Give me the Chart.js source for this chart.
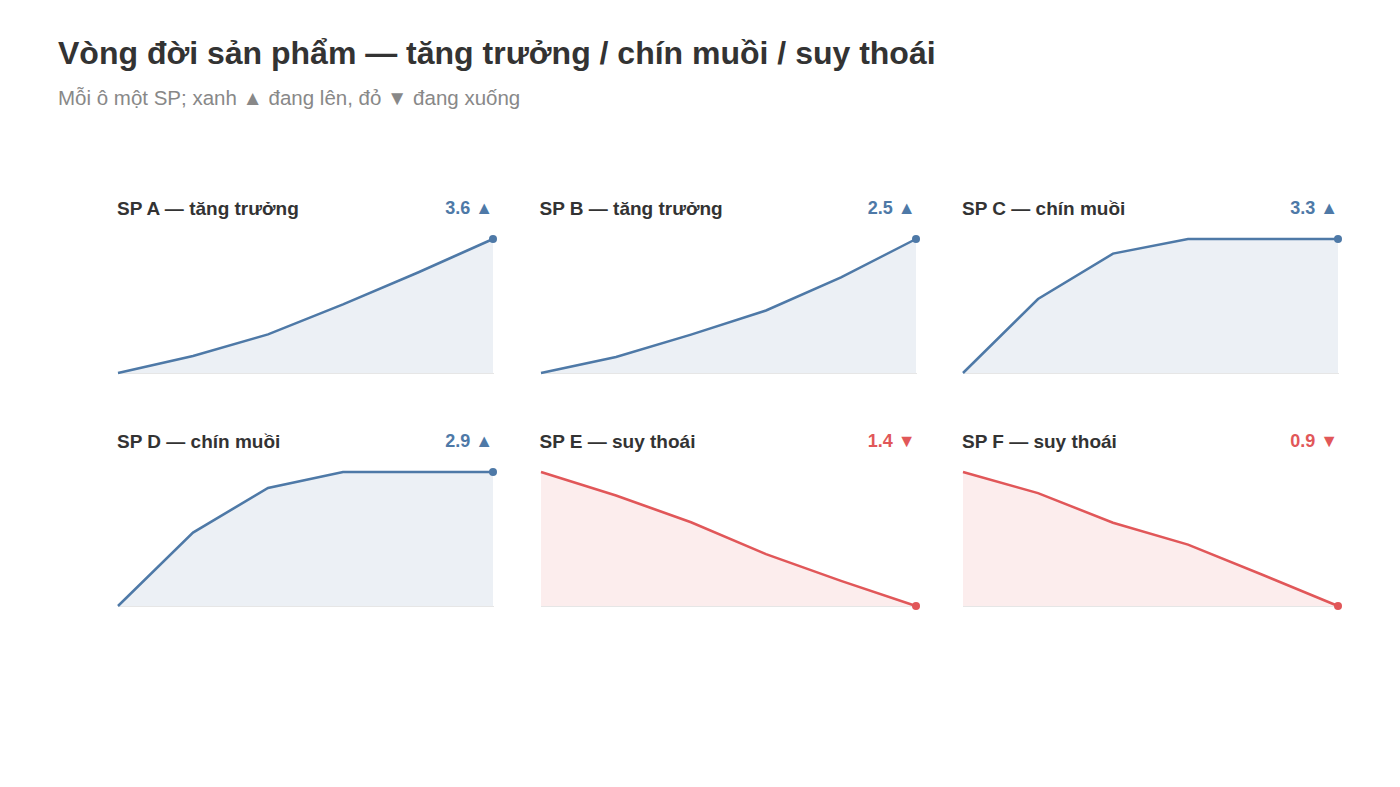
<!DOCTYPE html>
<html lang="vi">
<head>
<meta charset="utf-8">
<title>Vòng đời sản phẩm</title>
<script src="https://cdn.jsdelivr.net/npm/chart.js@4"></script>
<style>
  html, body { margin: 0; padding: 0; background: #fff; }
  body { width: 1400px; height: 787px; position: relative; overflow: hidden;
         font-family: "Liberation Sans", Arial, Helvetica, sans-serif; }
  h1 { position: absolute; left: 58px; top: 35px; margin: 0; font-size: 32px; font-weight: 700; color: #333; }
  .sub { position: absolute; left: 58px; top: 86px; font-size: 20.5px; color: #888; }
  .ptitle { position: absolute; font-size: 19px; font-weight: 700; color: #333; white-space: nowrap; }
  .pval { position: absolute; font-size: 18px; font-weight: 700; white-space: nowrap; text-align: right; }
  .cv { position: absolute; }
</style>
</head>
<body>
<h1>Vòng đời sản phẩm — tăng trưởng / chín muồi / suy thoái</h1>
<div class="sub">Mỗi ô một SP; xanh ▲ đang lên, đỏ ▼ đang xuống</div>

<script>
/* ── DATA ── */
const periods = ['T1', 'T2', 'T3', 'T4', 'T5', 'T6'];
const products = ['SP A', 'SP B', 'SP C', 'SP D', 'SP E', 'SP F'];
const stages   = ['tăng trưởng', 'tăng trưởng', 'chín muồi', 'chín muồi', 'suy thoái', 'suy thoái'];

const seriesA = [1.0, 1.33, 1.75, 2.33, 2.95, 3.6];
const seriesB = [1.0, 1.18, 1.43, 1.70, 2.07, 2.5];
const seriesC = [1.0, 2.27, 3.05, 3.3, 3.3, 3.3];
const seriesD = [0.8, 1.95, 2.65, 2.9, 2.9, 2.9];
const seriesE = [3.0, 2.72, 2.40, 2.02, 1.70, 1.4];
const seriesF = [2.8, 2.50, 2.08, 1.77, 1.34, 0.9];
const allSeries = [seriesA, seriesB, seriesC, seriesD, seriesE, seriesF];

/* ── STYLE ── */
const BLUE = '#4e79a7', BLUE_FILL = 'rgba(78,121,167,0.11)';
const RED  = '#e15759', RED_FILL  = 'rgba(225,87,89,0.11)';
const PAD = { left: 6, right: 6, top: 6, bottom: 3 };
const AREA_W = 375, AREA_H = 134;

products.forEach((name, i) => {
  const col = i % 3, row = Math.floor(i / 3);
  const data = allSeries[i];
  const up = data[data.length - 1] >= data[0];
  const color = up ? BLUE : RED;
  const fill  = up ? BLUE_FILL : RED_FILL;

  const areaLeft = 118 + col * 422.5;
  const areaTop  = 239 + row * 233;

  // header
  const t = document.createElement('div');
  t.className = 'ptitle';
  t.textContent = `${name} — ${stages[i]}`;
  t.style.left = (areaLeft - 1) + 'px';
  t.style.top = (areaTop - 41) + 'px';
  document.body.appendChild(t);

  const v = document.createElement('div');
  v.className = 'pval';
  v.textContent = `${data[data.length - 1].toFixed(1)} ${up ? '▲' : '▼'}`;
  v.style.color = color;
  v.style.left = (areaLeft + AREA_W - 200) + 'px';
  v.style.width = '200px';
  v.style.top = (areaTop - 41) + 'px';
  document.body.appendChild(v);

  // chart
  const wrap = document.createElement('div');
  wrap.className = 'cv';
  wrap.style.left = (areaLeft - PAD.left) + 'px';
  wrap.style.top = (areaTop - PAD.top) + 'px';
  wrap.style.width = (AREA_W + PAD.left + PAD.right) + 'px';
  wrap.style.height = (AREA_H + PAD.top + PAD.bottom + 1) + 'px';
  const cv = document.createElement('canvas');
  wrap.appendChild(cv);
  document.body.appendChild(wrap);

  new Chart(cv, {
    type: 'line',
    data: {
      labels: periods,
      datasets: [{
        data,
        borderColor: color,
        backgroundColor: fill,
        borderWidth: 2.5,
        fill: 'origin',
        tension: 0,
        clip: false,
        pointRadius: ctx => ctx.dataIndex === data.length - 1 ? 4 : 0,
        pointBackgroundColor: color,
        pointBorderColor: color,
        pointBorderWidth: 0,
      }],
    },
    options: {
      responsive: true,
      maintainAspectRatio: false,
      animation: false,
      layout: { padding: PAD },
      plugins: { legend: { display: false }, tooltip: { enabled: false } },
      scales: {
        x: {
          display: true,
          offset: false,
          ticks: { display: false },
          grid: { display: false, drawTicks: false },
          border: { display: true, color: '#e6e6e6', width: 1 },
        },
        y: {
          display: false,
          min: Math.min(...data),
          max: Math.max(...data),
        },
      },
    },
  });
});
</script>
</body>
</html>
